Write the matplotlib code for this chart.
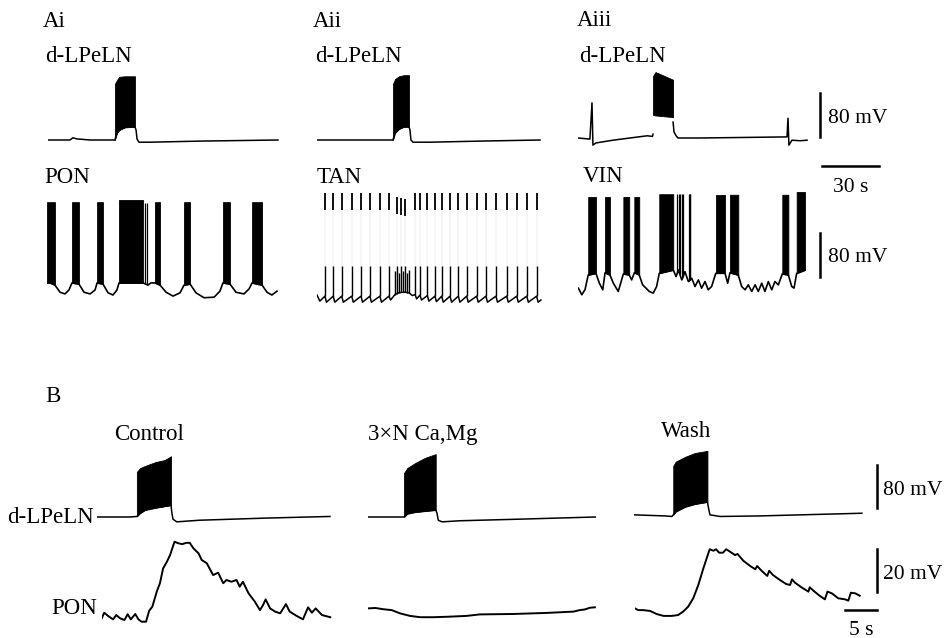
import numpy as np
import matplotlib
matplotlib.use("Agg")
import matplotlib.pyplot as plt

plt.rcParams["font.family"] = ["Liberation Serif", "DejaVu Serif"]

W, H = 951, 638
REST = -60.0

#######################################################
# Panel A data  (time in s, membrane potential in mV)
#######################################################
# Ai  d-LPeLN
AI_DL_T = [0, 11.6, 13.2, 15.3, 22.2, 35.4, 36.5, 38.6, 41.8, 46.0, 46.6, 47.1, 48.1, 54.0, 80.4, 121.7]
AI_DL_V = [-60, -60, -56, -58, -60, -60, -47, -40, -36, -36, -42, -58, -64, -64, -62, -60]
AI_BURST_T = [35.4, 36.5, 37.6, 40.7, 46.0]
AI_BURST_LO = [-60, -47, -42, -37, -36]
AI_BURST_HI = [42, 49, 55, 56, 56]

# Ai  PON
PON_T = [0, 1.6, 4.2, 6.9, 9.5, 11.6, 13.2, 16.9, 19.6, 22.8, 25.4, 26.5, 29.6, 32.3, 34.9, 37.0,
         38.1, 50.8, 53.4, 55.0, 57.1, 59.8, 63.0, 66.7, 70.4, 72.5, 75.7, 78.8, 83.1, 88.4, 91.5,
         93.1, 96.8, 100.0, 104.2, 106.9, 108.5, 113.8, 116.4, 119.0, 121.7]
PON_V = [-38, -38, -42, -55, -58, -51, -38, -40, -55, -58, -51, -38, -40, -56, -60, -51,
         -38, -38, -42, -38, -38, -42, -55, -62, -56, -42, -40, -56, -65, -64, -53,
         -38, -40, -55, -58, -49, -38, -42, -55, -60, -53]
PON_BURST_START = [0, 13.2, 26.5, 38.1, 57.1, 72.5, 93.1, 108.5]
PON_BURST_END = [4.2, 16.9, 29.6, 50.8, 59.8, 75.7, 96.8, 113.8]
PON_BURST_TOP = [109, 109, 109, 113, 109, 109, 109, 109]
PON_EXTRA_SPIKES = [51.6, 52.8]
PON_EXTRA_TOP = 108

# Aii  d-LPeLN
AII_DL_T = [0, 40.2, 41.3, 43.4, 46.0, 48.7, 49.2, 49.7, 50.8, 59.8, 86.2, 118.0]
AII_DL_V = [-60, -60, -47, -40, -36, -36, -42, -60, -64, -64, -62, -60]
AII_BURST_T = [40.2, 41.3, 43.4, 46.0, 48.7]
AII_BURST_LO = [-60, -47, -40, -36, -36]
AII_BURST_HI = [42, 51, 56, 58, 58]

# Aii  TAN
TAN_T = [0, 1.5, 4.2, 5.0, 8.6, 9.4, 13.1, 13.9, 18.4, 19.2, 23.3, 24.1, 28.0, 28.8, 33.3, 34.1,
         38.1, 38.9, 41.3, 43.0, 45.0, 47.0, 48.7, 50.5, 51.9, 52.7, 54.5, 55.3, 58.4, 59.2,
         62.4, 63.2, 66.0, 66.8, 70.4, 71.2, 74.8, 75.6, 79.2, 80.0, 84.5, 85.3, 89.4, 90.2,
         94.7, 95.5, 100.4, 101.2, 105.7, 106.5, 111.0, 111.8, 116.2, 117.0, 118.5]
TAN_V = [-51, -62, -53, -64, -53, -64, -53, -64, -53, -64, -53, -64, -53, -64, -53, -64,
         -53, -60, -50, -47, -46, -46, -47, -52, -50, -58, -51, -60, -52, -62,
         -53, -63, -53, -64, -53, -64, -53, -64, -53, -64, -53, -64, -53, -64,
         -53, -64, -53, -64, -53, -64, -53, -64, -53, -64, -60]
TAN_SPIKES = [4.2, 8.6, 13.1, 18.4, 23.3, 28.0, 33.3, 38.1, 41.3, 42.3, 43.4, 44.4, 45.5, 46.6,
              47.6, 48.7, 51.9, 54.5, 58.4, 62.4, 66.0, 70.4, 74.8, 79.2, 84.5, 89.4, 94.7,
              100.4, 105.7, 111.0, 116.2]
TAN_PEAKS = [135, 135, 135, 135, 135, 135, 135, 135, -8, 128, -10, 126, -8, 124, -10, -6,
             135, 135, 135, 135, 135, 135, 135, 135, 135, 135, 135, 135, 135, 135, 135]

# Aiii  d-LPeLN (gap where the burst is clipped)
AIII_DL_T = [0, 6.3, 7.4, 7.9, 9.5, 18.5, 36.5, 39.4, 39.7, np.nan, 50.3, 50.8, 51.9, 52.9,
             64.6, 110.6, 111.1, 111.6, 113.2, 117.5, 121.2]
AIII_DL_V = [-60, -62, 4, -73, -69, -64, -56, -57, -53, np.nan, -31, -49, -56, -60,
             -60, -58, -24, -73, -64, -65, -64]
AIII_BURST_T = [39.7, 41.0, 50.3]
AIII_BURST_LO = [-18, -19, -22]
AIII_BURST_HI = [53, 60, 46]

# Aiii  VIN
VIN_T = [0.2, 2.0, 3.7, 5.4, 9.5, 11.3, 13.1, 14.3, 16.9, 18.7, 21.3, 24.0, 27.1, 28.4, 29.8,
         32.4, 34.2, 36.0, 37.7, 39.8, 41.6, 43.0, 50.4, 51.9, 53.1, 54.9, 56.6, 58.4, 60.2,
         61.9, 63.7, 65.4, 67.2, 68.9, 70.7, 72.9, 77.8, 79.2, 80.4, 84.8, 86.6, 88.4, 90.1,
         91.9, 93.7, 95.4, 97.2, 98.9, 100.7, 102.5, 104.2, 106.0, 108.1, 111.3, 113.1,
         114.3, 115.7, 120.1]
VIN_V = [-53, -65, -56, -29, -26, -44, -56, -25, -29, -44, -59, -27, -29, -38, -25,
         -29, -47, -53, -59, -62, -50, -26, -20, -32, -20, -38, -23, -41, -35,
         -50, -38, -53, -41, -56, -50, -26, -26, -44, -25, -29, -50, -56, -47,
         -59, -47, -59, -44, -59, -41, -56, -41, -47, -27, -29, -50,
         -53, -26, -20]
VIN_BURST_START = [5.4, 14.3, 24.0, 29.8, 43.0, 72.9, 80.4, 108.1, 115.7]
VIN_BURST_END = [9.5, 16.9, 27.1, 32.4, 50.4, 77.8, 84.8, 111.3, 120.1]
VIN_BURST_TOP = [113, 113, 113, 113, 118, 117, 117, 117, 122]
VIN_EXTRA_SPIKES = [52.5, 53.2, 53.9, 55.0, 55.6, 58.5, 59.0, 59.5]
VIN_EXTRA_TOP = 118

#######################################################
# Panel B data
#######################################################
CTRL_DL_T = [0, 5.2, 6.3, 6.8, 7.6, 9.2, 10.7, 11.7, 11.8, 12.0, 12.6, 16.2, 26.8, 36.8]
CTRL_DL_V = [-60, -60, -59, -53, -47, -43, -40, -38, -50, -64, -69, -66, -62, -59]
CTRL_BURST_T = [6.3, 6.8, 7.6, 9.2, 10.7, 11.7]
CTRL_BURST_LO = [-59, -53, -47, -43, -40, -38]
CTRL_BURST_HI = [24, 31, 35, 42, 46, 53]

HCA_DL_T = [0, 5.0, 5.7, 6.2, 7.4, 9.0, 10.7, 10.9, 11.1, 11.7, 14.5, 24.0, 35.9]
HCA_DL_V = [-60, -60, -60, -54, -51, -49, -47, -53, -66, -69, -67, -64, -60]
HCA_BURST_T = [5.7, 6.2, 7.4, 9.0, 10.7]
HCA_BURST_LO = [-60, -54, -51, -49, -47]
HCA_BURST_HI = [22, 31, 40, 50, 57]

WASH_DL_T = [0, 4.9, 6.0, 6.2, 6.6, 8.1, 9.6, 11.6, 11.8, 12.0, 13.6, 19.9, 36.0]
WASH_DL_V = [-56, -58, -59, -56, -50, -41, -36, -32, -45, -56, -59, -58, -53]
WASH_BURST_T = [6.2, 6.6, 8.1, 9.6, 11.6]
WASH_BURST_LO = [-56, -50, -41, -36, -32]
WASH_BURST_HI = [35, 43, 52, 59, 63]

CTRL_PON_T = [0, 0.4, 1.0, 1.8, 2.3, 2.9, 3.6, 4.1, 4.6, 5.3, 5.8, 6.3, 7.0, 7.5, 8.0, 8.7,
              9.2, 9.7, 10.3, 10.8, 11.5, 12.1, 12.7, 13.4, 13.9, 14.5, 15.3, 15.8, 16.6,
              17.6, 18.4, 19.2, 19.7, 20.5, 21.3, 21.8, 22.3, 23.2, 24.2, 25.0, 25.5, 25.9,
              26.6, 27.4, 28.2, 29.1, 29.7, 30.8, 31.8, 32.6, 33.2, 33.8, 34.8, 36.1]
CTRL_PON_V = [-59.2, -56.6, -58.1, -59.7, -57.7, -59.2, -60.0, -57.3, -59.7, -57.2, -59.7,
              -60.8, -60.8, -55.7, -53.8, -46.8, -42.9, -36.0, -32.9, -29.8, -23.6, -24.3,
              -24.7, -24.1, -24.1, -26.7, -29.0, -32.1, -33.6, -39.1, -38.0, -42.9, -41.4,
              -42.2, -41.4, -44.5, -42.2, -47.6, -51.5, -55.4, -53.0, -50.4, -54.6, -56.1,
              -56.9, -52.6, -56.1, -58.1, -59.7, -54.1, -56.6, -54.6, -57.7, -58.7]

HCA_PON_T = [0, 1.1, 2.4, 3.7, 5.0, 6.6, 8.2, 10.3, 12.4, 15.5, 17.6, 22.9, 28.2, 32.4, 33.4,
             34.2, 35.0, 35.8]
HCA_PON_V = [-54.6, -54.4, -55.0, -55.4, -56.9, -58.1, -58.7, -58.7, -58.5, -58.1, -57.4,
             -57.2, -56.7, -56.1, -55.4, -55.1, -54.3, -54.1]

WASH_PON_T = [0, 0.5, 1.3, 2.4, 3.4, 4.5, 5.8, 6.8, 7.6, 8.4, 9.2, 10.0, 10.8, 11.4, 11.8,
              12.4, 12.8, 13.3, 13.9, 14.4, 15.0, 15.8, 16.2, 17.1, 18.2, 19.0, 19.3, 20.0,
              20.9, 21.2, 21.8, 22.9, 23.9, 24.5, 24.8, 25.3, 26.3, 27.4, 27.6, 28.2, 29.2,
              30.0, 30.4, 31.1, 32.1, 33.2, 33.7, 34.1, 34.8, 35.5]
WASH_PON_V = [-54.6, -55.4, -55.4, -55.8, -57.2, -58.1, -58.1, -57.7, -56.1, -53.8, -49.9,
              -43.7, -36.0, -30.6, -27.1, -27.8, -27.1, -28.7, -28.7, -27.1, -28.2, -29.8,
              -29.3, -32.4, -34.9, -36.4, -34.9, -37.1, -39.5, -37.1, -39.1, -41.4, -43.3,
              -43.7, -41.1, -42.7, -44.8, -46.8, -44.8, -46.4, -48.8, -50.4, -46.8, -47.6,
              -49.9, -50.4, -51.0, -47.3, -47.6, -48.7]

SCALE_A_MV = 80
SCALE_A_S = 30
SCALE_B_MV = 80
SCALE_B_PSP = 20
SCALE_B_S = 5

#######################################################
# Layout helpers
#######################################################
fig = plt.figure(figsize=(W / 100, H / 100), dpi=100)
fig.patch.set_facecolor("white")

A_PX_S, A_PX_MV = 1.89, 1 / 1.82
B_PX_S, B_PX_MV, B_PX_PSP = 6.33, 1 / 1.86, 2.15
LABEL_SIZE = 16.5
BAR_TEXT = 15.5


def trace_ax(x0, yref, tspan, vlo, vhi, px_s, px_mv):
    # t=0 sits at pixel x0, v=REST sits at pixel row yref
    bot = yref + (REST - vlo) * px_mv
    top = yref - (vhi - REST) * px_mv
    ax = fig.add_axes([x0 / W, 1 - bot / H, tspan * px_s / W, (bot - top) / H])
    ax.set_xlim(0, tspan)
    ax.set_ylim(vlo, vhi)
    ax.axis("off")
    return ax


def label(x, y, s, ha="left"):
    # y is the text baseline in pixels from the top
    fig.text(x / W, 1 - y / H, s, fontsize=LABEL_SIZE, ha=ha, va="baseline")


def draw_dl(ax, t, v, bt, blo, bhi):
    ax.fill_between(bt, blo, bhi, color="k", lw=0.6, edgecolor="k")
    ax.plot(t, v, color="k", lw=1.1)


def draw_bursting(ax, t, v, starts, ends, tops, extra=None, extra_top=None):
    t = np.asarray(t)
    v = np.asarray(v)
    for ts, te, top in zip(starts, ends, tops):
        m = (t >= ts) & (t <= te)
        ax.fill_between(t[m], v[m], top, color="k", lw=0.6, edgecolor="k")
    if extra is not None:
        base = np.interp(extra, t, v)
        ax.vlines(extra, base, extra_top, color="k", lw=0.9)
    ax.plot(t, v, color="k", lw=1.2)


#######################################################
# Panel A
#######################################################
ax = trace_ax(48, 140, 124, -90, 70, A_PX_S, A_PX_MV)
draw_dl(ax, AI_DL_T, AI_DL_V, AI_BURST_T, AI_BURST_LO, AI_BURST_HI)

ax = trace_ax(47, 295, 124, -80, 125, A_PX_S, A_PX_MV)
draw_bursting(ax, PON_T, PON_V, PON_BURST_START, PON_BURST_END, PON_BURST_TOP,
              PON_EXTRA_SPIKES, PON_EXTRA_TOP)

ax = trace_ax(317, 140, 120, -90, 70, A_PX_S, A_PX_MV)
draw_dl(ax, AII_DL_T, AII_DL_V, AII_BURST_T, AII_BURST_LO, AII_BURST_HI)

ax = trace_ax(317, 300, 120, -80, 145, A_PX_S, A_PX_MV)
tan_base = np.interp(TAN_SPIKES, TAN_T, TAN_V)
tan_peak = np.array(TAN_PEAKS)
ax.vlines(TAN_SPIKES, tan_base, tan_peak, color="0.86", lw=0.35)
ax.vlines(TAN_SPIKES, tan_base, np.minimum(tan_peak, 2), color="k", lw=1.0)
tall = tan_peak > 60
ax.vlines(np.array(TAN_SPIKES)[tall], tan_peak[tall] - 32, tan_peak[tall], color="k", lw=1.3)
ax.plot(TAN_T, TAN_V, color="k", lw=1.1)

ax3 = trace_ax(578, 138, 124, -160, 70, A_PX_S, A_PX_MV)
ax3.fill_between(AIII_BURST_T, AIII_BURST_LO, AIII_BURST_HI, color="k", lw=0.6, edgecolor="k")
ax3.plot(AIII_DL_T, AIII_DL_V, color="k", lw=1.1)
# scale bars
ax3.plot([128, 128], [-58, -58 + SCALE_A_MV], color="k", lw=1.8, clip_on=False)
ax3.text(132.3, -33, f"{SCALE_A_MV} mV", fontsize=BAR_TEXT, va="baseline", clip_on=False)
ax3.plot([129.1, 129.1 + SCALE_A_S], [-111, -111], color="k", lw=1.8, clip_on=False)
ax3.text(129.1 + SCALE_A_S / 2, -158, f"{SCALE_A_S} s", fontsize=BAR_TEXT, ha="center",
         va="baseline", clip_on=False)

ax = trace_ax(578, 292, 124, -80, 130, A_PX_S, A_PX_MV)
draw_bursting(ax, VIN_T, VIN_V, VIN_BURST_START, VIN_BURST_END, VIN_BURST_TOP,
              VIN_EXTRA_SPIKES, VIN_EXTRA_TOP)
ax.plot([128, 128], [-33, -33 + SCALE_A_MV], color="k", lw=1.8, clip_on=False)
ax.text(132.3, -5.5, f"{SCALE_A_MV} mV", fontsize=BAR_TEXT, va="baseline", clip_on=False)

label(43, 27, "Ai")
label(313, 27, "Aii")
label(577, 26, "Aiii")
label(45, 62, "d-LPeLN")
label(315, 62, "d-LPeLN")
label(579, 62, "d-LPeLN")
label(44, 183, "PON")
label(317, 183, "TAN")
label(583, 182, "VIN")

#######################################################
# Panel B
#######################################################
ax = trace_ax(97, 517, 38, -80, 70, B_PX_S, B_PX_MV)
draw_dl(ax, CTRL_DL_T, CTRL_DL_V, CTRL_BURST_T, CTRL_BURST_LO, CTRL_BURST_HI)
ax = trace_ax(368, 517, 38, -80, 70, B_PX_S, B_PX_MV)
draw_dl(ax, HCA_DL_T, HCA_DL_V, HCA_BURST_T, HCA_BURST_LO, HCA_BURST_HI)
axw = trace_ax(634, 517, 38, -80, 70, B_PX_S, B_PX_MV)
draw_dl(axw, WASH_DL_T, WASH_DL_V, WASH_BURST_T, WASH_BURST_LO, WASH_BURST_HI)
axw.plot([38.4, 38.4], [-43, -43 + SCALE_B_MV], color="k", lw=1.8, clip_on=False)
axw.text(39.3, -19, f"{SCALE_B_MV} mV", fontsize=BAR_TEXT, va="baseline", clip_on=False)

ax = trace_ax(101.7, 620, 38, -66, -18, B_PX_S, B_PX_PSP)
ax.plot(CTRL_PON_T, CTRL_PON_V, color="k", lw=1.4)
ax = trace_ax(368.3, 620, 38, -66, -18, B_PX_S, B_PX_PSP)
ax.plot(HCA_PON_T, HCA_PON_V, color="k", lw=1.4)
axp = trace_ax(635, 620, 38, -66, -18, B_PX_S, B_PX_PSP)
axp.plot(WASH_PON_T, WASH_PON_V, color="k", lw=1.4)
axp.plot([38.2, 38.2], [-47, -47 + SCALE_B_PSP], color="k", lw=1.8, clip_on=False)
axp.text(39.2, -40.7, f"{SCALE_B_PSP} mV", fontsize=BAR_TEXT, va="baseline", clip_on=False)
axp.plot([38.2 - SCALE_B_S, 38.2], [-55.4, -55.4], color="k", lw=1.8, clip_on=False)
axp.text(38.2 - SCALE_B_S / 2, -66.9, f"{SCALE_B_S} s", fontsize=BAR_TEXT, ha="center",
         va="baseline", clip_on=False)

label(45, 402, "B")
label(149, 440, "Control", ha="center")
label(368, 440, "3×N Ca,Mg")
label(686, 437, "Wash", ha="center")
label(94, 523, "d-LPeLN", ha="right")
label(97, 614, "PON", ha="right")

fig.savefig("out.png", dpi=100, facecolor="white")
